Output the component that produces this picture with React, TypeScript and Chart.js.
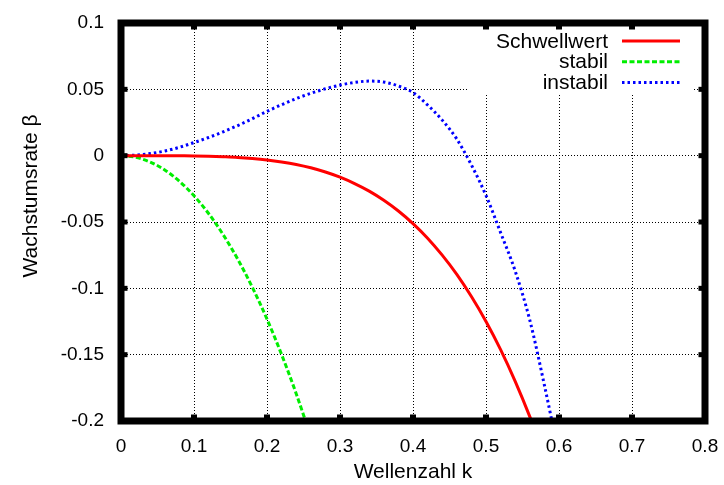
import React, { useEffect, useRef } from "react";
import { Chart, registerables } from "chart.js";

Chart.register(...registerables);

// Wavenumber grid and growth rates of the three branches
const thresholdK = [
  0, 0.02, 0.04, 0.06, 0.08, 0.1, 0.12, 0.14, 0.16, 0.18, 0.2, 0.22, 0.24, 0.26, 0.28,
  0.3, 0.32, 0.34, 0.36, 0.38, 0.4, 0.42, 0.44, 0.46, 0.48, 0.5, 0.52, 0.54, 0.56, 0.58,
];
const thresholdRate = [
  0, 0, 0, 0, -0.0001, -0.0002, -0.0004, -0.0008, -0.0013, -0.0021, -0.0032, -0.0047,
  -0.0066, -0.0091, -0.0123, -0.0162, -0.021, -0.0267, -0.0336, -0.0417, -0.0512, -0.0622,
  -0.075, -0.0895, -0.1062, -0.125, -0.1462, -0.1701, -0.1967, -0.2263,
];

const stableK = [0, 0.02, 0.04, 0.06, 0.08, 0.1, 0.12, 0.14, 0.16, 0.18, 0.2, 0.22, 0.24, 0.26];
const stableRate = [
  0, -0.0012, -0.0048, -0.0108, -0.0193, -0.0302, -0.0436, -0.0596, -0.0781, -0.0993,
  -0.1232, -0.1499, -0.1794, -0.2119,
];

const unstableK = [
  0, 0.02, 0.04, 0.06, 0.08, 0.1, 0.12, 0.14, 0.16, 0.18, 0.2, 0.22, 0.24, 0.26, 0.28, 0.3,
  0.32, 0.34, 0.36, 0.38, 0.4, 0.42, 0.44, 0.46, 0.48, 0.5, 0.52, 0.54, 0.56, 0.58, 0.6,
];
const unstableRate = [
  0, 0.0004, 0.0016, 0.0035, 0.0063, 0.0099, 0.0137, 0.018, 0.0227, 0.0279, 0.0334, 0.0384,
  0.043, 0.047, 0.0504, 0.0532, 0.0552, 0.0562, 0.0555, 0.0525, 0.0476, 0.0382, 0.0268,
  0.0125, -0.007, -0.03, -0.058, -0.087, -0.124, -0.173, -0.226,
];

const seriesNames = ["Schwellwert", "stabil", "instabil"];

const xTicks = [0, 0.1, 0.2, 0.3, 0.4, 0.5, 0.6, 0.7, 0.8];
const yTicks = [0.1, 0.05, 0, -0.05, -0.1, -0.15, -0.2];

const xTitle = "Wellenzahl k";
const yTitle = "Wachstumsrate β";

const FONT = '"Liberation Sans", Arial, Helvetica, sans-serif';

// Thick frame, inward tick marks, axis titles and the key in the upper right
const framePlugin = {
  id: "gnuplotFrame",
  afterDatasetsDraw(chart: any) {
    const { ctx, chartArea } = chart;
    const { top, right } = chartArea;
    ctx.save();
    ctx.fillStyle = "#ffffff";
    ctx.fillRect(right - 238, top + 3, 226, 67);

    ctx.font = `21px ${FONT}`;
    ctx.textAlign = "right";
    ctx.textBaseline = "middle";
    chart.data.datasets.forEach((ds: any, i: number) => {
      const rowY = top + 18 + i * 20.7;
      ctx.fillStyle = "#000";
      ctx.fillText(ds.label, right - 97, rowY + 1);
      ctx.beginPath();
      ctx.strokeStyle = ds.borderColor;
      ctx.lineWidth = ds.borderWidth;
      ctx.setLineDash(ds.borderDash || []);
      ctx.lineCap = "butt";
      ctx.moveTo(right - 83, rowY);
      ctx.lineTo(right - 25, rowY);
      ctx.stroke();
    });
    ctx.restore();
  },
  afterDraw(chart: any) {
    const { ctx, chartArea, scales } = chart;
    const { left, top, right, bottom } = chartArea;
    ctx.save();
    ctx.setLineDash([]);
    ctx.strokeStyle = "#000";
    ctx.lineWidth = 7;
    ctx.strokeRect(left, top, right - left, bottom - top);

    ctx.fillStyle = "#000";
    xTicks.forEach((v) => {
      const x = scales.x.getPixelForValue(v);
      ctx.fillRect(x - 3, bottom - 6.5, 6, 6.5);
      ctx.fillRect(x - 3, top, 6, 6.5);
    });
    yTicks.forEach((v) => {
      const y = scales.y.getPixelForValue(v);
      ctx.fillRect(left, y - 2.5, 6.5, 5);
      ctx.fillRect(right - 6.5, y - 2.5, 6.5, 5);
    });

    ctx.font = `21px ${FONT}`;
    ctx.textAlign = "center";
    ctx.textBaseline = "alphabetic";
    ctx.fillText(xTitle, (left + right) / 2, 478);

    ctx.translate(37, 196);
    ctx.rotate(-Math.PI / 2);
    ctx.fillText(yTitle, 0, 0);
    ctx.restore();
  },
};

export default function App() {
  const canvasRef = useRef<HTMLCanvasElement>(null);

  useEffect(() => {
    const canvas = canvasRef.current;
    if (!canvas) return;

    const points = (ks: number[], vs: number[]) => ks.map((k, i) => ({ x: k, y: vs[i] }));

    const chart = new Chart(canvas, {
      type: "scatter",
      data: {
        datasets: [
          {
            label: seriesNames[0],
            data: points(thresholdK, thresholdRate),
            borderColor: "#ff0000",
            backgroundColor: "#ff0000",
            borderWidth: 3,
            showLine: true,
            pointRadius: 0,
            cubicInterpolationMode: "monotone",
          },
          {
            label: seriesNames[1],
            data: points(stableK, stableRate),
            borderColor: "#00ee00",
            backgroundColor: "#00ee00",
            borderWidth: 3,
            borderDash: [5, 2.5],
            showLine: true,
            pointRadius: 0,
            cubicInterpolationMode: "monotone",
          },
          {
            label: seriesNames[2],
            data: points(unstableK, unstableRate),
            borderColor: "#0000ff",
            backgroundColor: "#0000ff",
            borderWidth: 3,
            borderDash: [2.5, 3],
            showLine: true,
            pointRadius: 0,
            cubicInterpolationMode: "monotone",
          },
        ] as any,
      },
      options: {
        animation: false,
        responsive: false,
        devicePixelRatio: 1,
        events: [],
        layout: { padding: { left: 0, top: 23, right: 19, bottom: 0 } },
        plugins: {
          legend: { display: false },
          tooltip: { enabled: false },
        },
        scales: {
          x: {
            type: "linear",
            min: 0,
            max: 0.8,
            afterBuildTicks: (s: any) => {
              s.ticks = xTicks.map((v) => ({ value: v }));
            },
            afterFit: (s: any) => {
              s.height = 64;
              s.paddingLeft = 0;
              s.paddingRight = 0;
              s.paddingTop = 0;
              s.paddingBottom = 0;
            },
            ticks: {
              padding: 14,
              color: "#000",
              font: { family: FONT, size: 19 },
              callback: (v: any) => String(v),
              maxRotation: 0,
            },
            grid: { color: "#000", lineWidth: 1, drawTicks: false },
            border: { display: false, dash: [1, 2] },
          },
          y: {
            type: "linear",
            min: -0.2,
            max: 0.1,
            afterBuildTicks: (s: any) => {
              s.ticks = yTicks.map((v) => ({ value: v }));
            },
            afterFit: (s: any) => {
              s.width = 121;
              s.paddingLeft = 0;
              s.paddingRight = 0;
              s.paddingTop = 0;
              s.paddingBottom = 0;
            },
            ticks: {
              padding: 17,
              color: "#000",
              font: { family: FONT, size: 19 },
              callback: (v: any) => String(v),
            },
            grid: { color: "#000", lineWidth: 1, drawTicks: false },
            border: { display: false, dash: [1, 2] },
          },
        },
      } as any,
      plugins: [framePlugin],
    });

    return () => chart.destroy();
  }, []);

  return (
    <div style={{ position: "fixed", left: 0, top: 0, width: 724, height: 485, background: "#fff" }}>
      <canvas ref={canvasRef} width={724} height={485} style={{ display: "block" }} />
    </div>
  );
}
